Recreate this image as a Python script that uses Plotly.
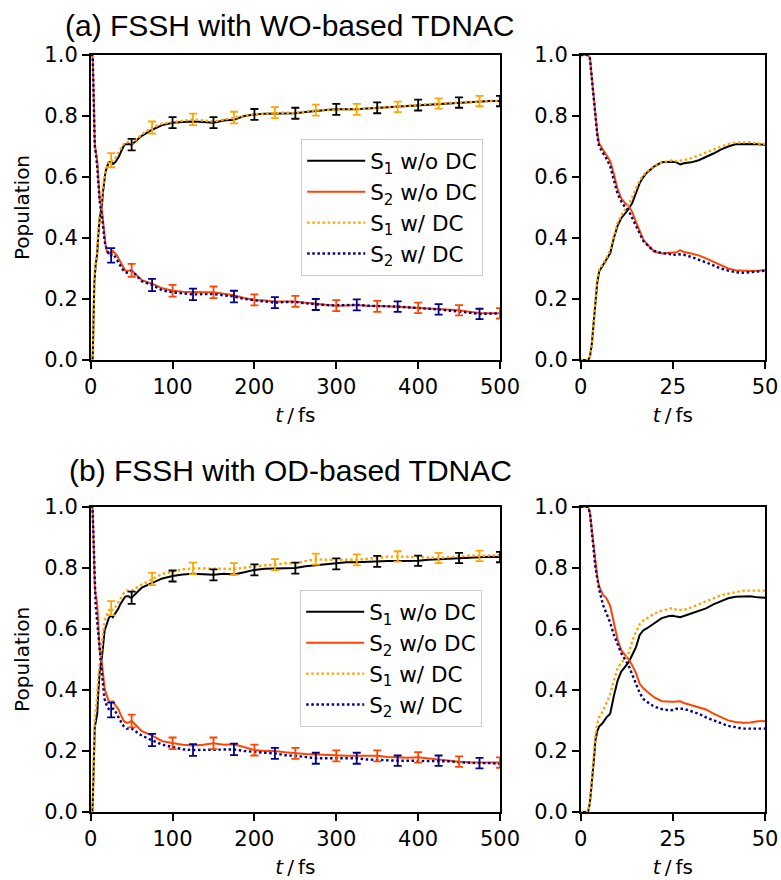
import plotly.graph_objects as go

# ---------------- data ----------------
t_fs = [0, 1, 2, 2.5, 3, 3.5, 4, 4.5, 5,
        6, 7, 8, 9, 10, 11, 12, 13, 14, 15, 16, 17, 18, 19, 20,
        22, 24, 25, 26, 27, 28,
        30, 32, 34, 36, 38, 40, 42, 44, 46, 48,
        50, 62.5, 75, 87.5, 100, 112.5, 125, 137.5, 150, 162.5, 175, 187.5, 200,
        212.5, 225, 237.5, 250, 262.5, 275, 287.5, 300, 312.5, 325, 337.5, 350,
        362.5, 375, 387.5, 400, 412.5, 425, 437.5, 450, 462.5, 475, 487.5, 500]

# (a) WO-based TDNAC
a_S1_wo = [0, 0, 0, 0.01, 0.05, 0.12, 0.20, 0.255, 0.29,
           0.31, 0.33, 0.35, 0.40, 0.44, 0.465, 0.48, 0.495, 0.515, 0.55, 0.58, 0.60, 0.615, 0.625, 0.635,
           0.648, 0.65, 0.65, 0.648, 0.641, 0.645,
           0.648, 0.655, 0.665, 0.677, 0.69, 0.70, 0.707, 0.708, 0.708, 0.707,
           0.706, 0.735, 0.755, 0.77, 0.778, 0.78, 0.782, 0.78, 0.778, 0.785, 0.788, 0.80, 0.805,
           0.807, 0.808, 0.81, 0.809, 0.813, 0.817, 0.82, 0.822, 0.822, 0.822, 0.825, 0.827,
           0.828, 0.83, 0.833, 0.836, 0.838, 0.84, 0.842, 0.844, 0.846, 0.848, 0.849, 0.849]
a_S2_wo = [1, 1, 1, 0.99, 0.93, 0.87, 0.80, 0.745, 0.71,
           0.69, 0.672, 0.652, 0.61, 0.56, 0.53, 0.515, 0.505, 0.485, 0.452, 0.42, 0.395, 0.38, 0.366, 0.355,
           0.349, 0.35, 0.351, 0.353, 0.36, 0.354,
           0.349, 0.343, 0.333, 0.322, 0.311, 0.30, 0.294, 0.292, 0.292, 0.293,
           0.294, 0.262, 0.25, 0.235, 0.227, 0.224, 0.222, 0.222, 0.222, 0.218, 0.212, 0.203, 0.197,
           0.195, 0.192, 0.192, 0.192, 0.188, 0.184, 0.18, 0.178, 0.179, 0.18, 0.178, 0.176,
           0.176, 0.175, 0.173, 0.171, 0.169, 0.167, 0.165, 0.163, 0.158, 0.154, 0.153, 0.153]
a_S1_w = [0, 0, 0, 0.01, 0.05, 0.12, 0.21, 0.265, 0.295,
          0.315, 0.335, 0.36, 0.41, 0.45, 0.475, 0.492, 0.51, 0.535, 0.565, 0.59, 0.605, 0.618, 0.627, 0.637,
          0.648, 0.652, 0.655, 0.652, 0.653, 0.655,
          0.662, 0.67, 0.68, 0.69, 0.70, 0.708, 0.713, 0.714, 0.714, 0.71,
          0.708, 0.74, 0.762, 0.775, 0.78, 0.785, 0.789, 0.785, 0.782, 0.788, 0.795, 0.80, 0.806,
          0.808, 0.811, 0.811, 0.81, 0.815, 0.819, 0.82, 0.822, 0.822, 0.822, 0.825, 0.828,
          0.829, 0.83, 0.834, 0.837, 0.839, 0.841, 0.843, 0.845, 0.847, 0.849, 0.849, 0.849]
a_S2_w = [1, 1, 1, 0.99, 0.93, 0.86, 0.79, 0.735, 0.70,
          0.68, 0.66, 0.635, 0.59, 0.545, 0.52, 0.502, 0.49, 0.465, 0.435, 0.41, 0.39, 0.378, 0.366, 0.358,
          0.35, 0.348, 0.343, 0.347, 0.346, 0.345,
          0.338, 0.33, 0.32, 0.31, 0.30, 0.293, 0.288, 0.286, 0.287, 0.29,
          0.293, 0.258, 0.246, 0.228, 0.222, 0.218, 0.215, 0.216, 0.216, 0.212, 0.208, 0.2, 0.196,
          0.192, 0.188, 0.19, 0.19, 0.186, 0.182, 0.18, 0.179, 0.18, 0.181, 0.178, 0.176,
          0.176, 0.175, 0.172, 0.17, 0.168, 0.166, 0.163, 0.16, 0.155, 0.151, 0.152, 0.153]

# (b) OD-based TDNAC
b_S1_wo = [0, 0, 0, 0.03, 0.09, 0.16, 0.235, 0.265, 0.28,
           0.292, 0.31, 0.322, 0.38, 0.43, 0.46, 0.475, 0.49, 0.515, 0.54, 0.58, 0.595, 0.602, 0.61, 0.617,
           0.635, 0.642, 0.643, 0.64, 0.638, 0.642,
           0.65, 0.658, 0.667, 0.68, 0.69, 0.70, 0.705, 0.707, 0.707, 0.703,
           0.702, 0.735, 0.75, 0.765, 0.773, 0.778, 0.78, 0.778, 0.777, 0.78, 0.778, 0.785, 0.793,
           0.797, 0.798, 0.80, 0.799, 0.805, 0.808, 0.81, 0.813, 0.818, 0.818, 0.82, 0.821,
           0.822, 0.822, 0.822, 0.823, 0.826, 0.828, 0.83, 0.832, 0.834, 0.836, 0.836, 0.835]
b_S2_wo = [1, 1, 1, 0.98, 0.923, 0.87, 0.82, 0.77, 0.74,
           0.712, 0.70, 0.675, 0.62, 0.565, 0.53, 0.515, 0.5, 0.48, 0.455, 0.42, 0.405, 0.395, 0.385, 0.375,
           0.363, 0.36, 0.361, 0.362, 0.363, 0.357,
           0.35, 0.345, 0.336, 0.322, 0.31, 0.30, 0.295, 0.292, 0.293, 0.297,
           0.298, 0.265, 0.25, 0.232, 0.225, 0.22, 0.218, 0.22, 0.225, 0.22, 0.222, 0.212, 0.203,
           0.2, 0.2, 0.196, 0.192, 0.19, 0.188, 0.186, 0.184, 0.184, 0.184, 0.184, 0.184,
           0.18, 0.178, 0.178, 0.179, 0.175, 0.172, 0.168, 0.165, 0.163, 0.163, 0.162, 0.162]
b_S1_w = [0, 0, 0, 0.03, 0.1, 0.17, 0.25, 0.29, 0.31,
          0.33, 0.355, 0.385, 0.43, 0.47, 0.49, 0.50, 0.52, 0.56, 0.59, 0.615, 0.627, 0.635, 0.643, 0.65,
          0.66, 0.665, 0.668, 0.662, 0.662, 0.662,
          0.67, 0.68, 0.69, 0.70, 0.71, 0.715, 0.72, 0.725, 0.725, 0.724,
          0.725, 0.745, 0.763, 0.78, 0.787, 0.795, 0.798, 0.798, 0.797, 0.797, 0.796, 0.80, 0.805,
          0.808, 0.81, 0.815, 0.815, 0.822, 0.828, 0.826, 0.825, 0.826, 0.826, 0.83, 0.833,
          0.836, 0.837, 0.836, 0.834, 0.833, 0.832, 0.835, 0.838, 0.84, 0.839, 0.84, 0.841]
b_S2_w = [1, 1, 1, 0.98, 0.93, 0.86, 0.80, 0.76, 0.73,
          0.68, 0.65, 0.62, 0.58, 0.55, 0.52, 0.50, 0.48, 0.45, 0.42, 0.39, 0.37, 0.36, 0.352, 0.345,
          0.337, 0.333, 0.334, 0.338, 0.338, 0.338,
          0.33, 0.322, 0.31, 0.30, 0.29, 0.282, 0.278, 0.273, 0.273, 0.274,
          0.273, 0.25, 0.236, 0.22, 0.213, 0.205, 0.203, 0.203, 0.205, 0.205, 0.205, 0.2, 0.196,
          0.194, 0.192, 0.186, 0.184, 0.18, 0.176, 0.176, 0.176, 0.176, 0.176, 0.172, 0.17,
          0.168, 0.168, 0.168, 0.168, 0.168, 0.168, 0.166, 0.163, 0.161, 0.16, 0.16, 0.158]

# error-bar times and half-widths
err_t_wo = [50, 100, 150, 200, 250, 300, 350, 400, 450, 500]
err_t_w = [25, 75, 125, 175, 225, 275, 325, 375, 425, 475]
a_err_S1_wo = [0.019, 0.018, 0.018, 0.018, 0.018, 0.018, 0.018, 0.018, 0.017, 0.017]
a_err_S2_wo = [0.021, 0.019, 0.019, 0.018, 0.018, 0.018, 0.018, 0.017, 0.017, 0.017]
a_err_S1_w = [0.023, 0.020, 0.019, 0.019, 0.018, 0.018, 0.018, 0.017, 0.017, 0.017]
a_err_S2_w = [0.024, 0.020, 0.019, 0.019, 0.018, 0.018, 0.018, 0.017, 0.017, 0.017]
b_err_S1_wo = [0.020, 0.018, 0.018, 0.018, 0.018, 0.018, 0.018, 0.017, 0.017, 0.017]
b_err_S2_wo = [0.021, 0.019, 0.019, 0.018, 0.018, 0.018, 0.018, 0.017, 0.017, 0.017]
b_err_S1_w = [0.023, 0.020, 0.019, 0.019, 0.018, 0.018, 0.018, 0.017, 0.017, 0.017]
b_err_S2_w = [0.024, 0.020, 0.019, 0.019, 0.018, 0.018, 0.018, 0.017, 0.017, 0.017]

series_names = ["S<sub>1</sub> w/o DC", "S<sub>2</sub> w/o DC", "S<sub>1</sub> w/ DC", "S<sub>2</sub> w/ DC"]
titles = ["(a) FSSH with WO-based TDNAC", "(b) FSSH with OD-based TDNAC"]
y_ticks = [0.0, 0.2, 0.4, 0.6, 0.8, 1.0]
x_ticks_long = [0, 100, 200, 300, 400, 500]
x_ticks_short = [0, 25, 50]

for s in [a_S1_wo, a_S2_wo, a_S1_w, a_S2_w, b_S1_wo, b_S2_wo, b_S1_w, b_S2_w]:
    assert len(s) == len(t_fs), len(s)

# ---------------- styling ----------------
colors = ["black", "#ff4500", "#ffa500", "#00008b"]
dashes = ["solid", "solid", "2.5px,2.6px", "2.5px,2.6px"]
widths = [2, 2, 2.4, 2.4]

W, H = 781, 880
XL = [90.7 / W, 500 / W]
XR = [580.7 / W, 765 / W]
YT = [(H - 360) / H, (H - 55) / H]
YB = [(H - 812) / H, (H - 506.7) / H]

TICKFONT = dict(family="DejaVu Sans", size=21, color="black")
LABELFONT = dict(family="DejaVu Sans", size=20, color="black")
fig = go.Figure()

panels = [
    dict(data=[a_S1_wo, a_S2_wo, a_S1_w, a_S2_w],
         errs=[a_err_S1_wo, a_err_S2_wo, a_err_S1_w, a_err_S2_w], row=0, legend="legend"),
    dict(data=[b_S1_wo, b_S2_wo, b_S1_w, b_S2_w],
         errs=[b_err_S1_wo, b_err_S2_wo, b_err_S1_w, b_err_S2_w], row=1, legend="legend2"),
]

idx = {t: i for i, t in enumerate(t_fs)}

for p in panels:
    r = p["row"]
    xl, yl = ("x", "y") if r == 0 else ("x3", "y3")
    xr, yr = ("x2", "y2") if r == 0 else ("x4", "y4")
    for k in range(4):
        line = dict(color=colors[k], width=widths[k], dash=dashes[k])
        fig.add_trace(go.Scatter(x=t_fs, y=p["data"][k], mode="lines", line=line,
                                 name=series_names[k], legend=p["legend"], showlegend=True,
                                 xaxis=xl, yaxis=yl))
    for k in range(4):
        ts = err_t_wo if k < 2 else err_t_w
        ys = [p["data"][k][idx[t]] for t in ts]
        fig.add_trace(go.Scatter(x=ts, y=ys, mode="markers",
                                 marker=dict(size=1, color="rgba(0,0,0,0)"),
                                 error_y=dict(type="data", array=p["errs"][k], visible=True,
                                              color=colors[k], thickness=1.8, width=4),
                                 showlegend=False, xaxis=xl, yaxis=yl, hoverinfo="skip"))
    for k in range(4):
        line = dict(color=colors[k], width=widths[k], dash=dashes[k])
        fig.add_trace(go.Scatter(x=t_fs, y=p["data"][k], mode="lines", line=line,
                                 showlegend=False, xaxis=xr, yaxis=yr))

def xax(domain, anchor, rng, ticks):
    return dict(domain=domain, anchor=anchor, range=rng, tickvals=ticks,
                ticktext=[str(v) for v in ticks], showline=True, mirror=True,
                linecolor="black", linewidth=1.5, ticks="outside", ticklen=7, tickwidth=1.5,
                tickcolor="black", showgrid=False, zeroline=False, tickfont=TICKFONT,
                automargin=False,
                title=dict(text="<i>t</i>\u2009/\u2009fs", font=LABELFONT, standoff=10))

def yax(domain, anchor, title):
    d = dict(domain=domain, anchor=anchor, range=[0, 1], tickvals=y_ticks,
             ticktext=["%.1f" % v for v in y_ticks], showline=True, mirror=True,
             linecolor="black", linewidth=1.5, ticks="outside", ticklen=7, tickwidth=1.5,
             tickcolor="black", showgrid=False, zeroline=False, tickfont=TICKFONT,
             automargin=False)
    if title:
        d["title"] = dict(text="Population", font=LABELFONT, standoff=9)
    return d

legend_common = dict(font=dict(family="DejaVu Sans", size=21.5, color="black"),
                     bgcolor="rgba(255,255,255,0.8)", bordercolor="#cccccc", borderwidth=1.2,
                     xanchor="left", yanchor="top", itemwidth=58, tracegroupgap=0)

fig.update_layout(
    width=W, height=H, margin=dict(l=0, r=0, t=0, b=0),
    paper_bgcolor="white", plot_bgcolor="white",
    xaxis=xax(XL, "y", [0, 500], x_ticks_long),
    yaxis=yax(YT, "x", True),
    xaxis2=xax(XR, "y2", [0, 50], x_ticks_short),
    yaxis2=yax(YT, "x2", False),
    xaxis3=xax(XL, "y3", [0, 500], x_ticks_long),
    yaxis3=yax(YB, "x3", True),
    xaxis4=xax(XR, "y4", [0, 50], x_ticks_short),
    yaxis4=yax(YB, "x4", False),
    legend=dict(x=301 / W, y=(H - 139) / H, **legend_common),
    legend2=dict(x=300 / W, y=(H - 590) / H, **legend_common),
    showlegend=True,
    annotations=[
        dict(text=titles[0], x=290 / W, y=(H - 25) / H, xref="paper", yref="paper",
             showarrow=False, xanchor="center", yanchor="middle",
             font=dict(family="Liberation Sans, Arial", size=30, color="black")),
        dict(text=titles[1], x=290 / W, y=(H - 471) / H, xref="paper", yref="paper",
             showarrow=False, xanchor="center", yanchor="middle",
             font=dict(family="Liberation Sans, Arial", size=30, color="black")),
    ],
)

fig.write_html("out.html")
